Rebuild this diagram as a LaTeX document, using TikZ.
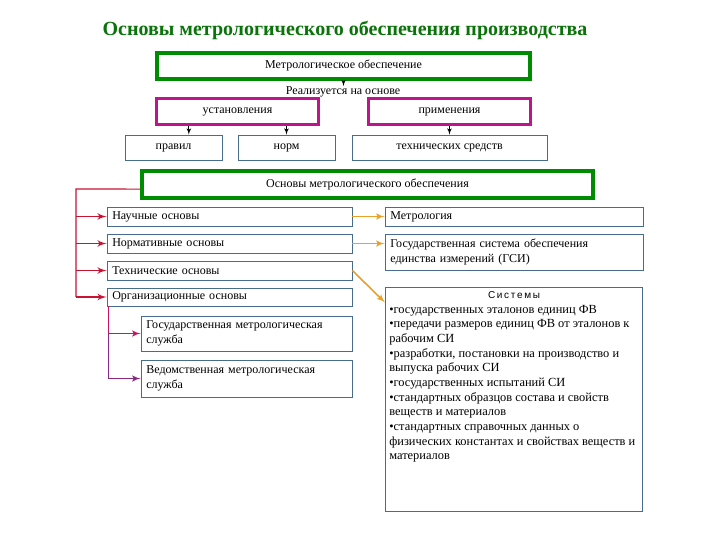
\documentclass[tikz,border=0pt]{standalone}
\usepackage{fontspec}
\setmainfont{Liberation Serif}
\newfontfamily\sysfont{Liberation Sans}
\usetikzlibrary{shapes,arrows,positioning}
\definecolor{titlegreen}{RGB}{10,115,10}
\definecolor{boxgreen}{RGB}{0,140,0}
\definecolor{boxmagenta}{RGB}{190,20,140}
\definecolor{boxblue}{RGB}{70,110,140}
\definecolor{linered}{RGB}{200,20,50}
\definecolor{linepink}{RGB}{200,20,100}
\definecolor{linepurple}{RGB}{140,40,130}
\definecolor{lineorange}{RGB}{235,160,40}
\tikzstyle{greenbox} = [rectangle,draw=boxgreen,line width=3pt,fill=white,
  font=\fontsize{9}{10}\selectfont]
\tikzstyle{pinkbox} = [rectangle,draw=boxmagenta,line width=2.25pt,fill=white,
  minimum width=121.5pt,minimum height=19.5pt,font=\fontsize{9}{10}\selectfont]
\tikzstyle{thinbox} = [rectangle,draw=boxblue,line width=0.6pt,fill=white,
  inner ysep=1pt,font=\fontsize{9}{11.5}\selectfont]
\tikzstyle{leftbox} = [thinbox,align=left,inner xsep=4pt]
\tikzstyle{blackline} = [draw,-latex',line width=0.6pt]
\tikzstyle{redline} = [draw,linered,line width=0.8pt]
\tikzstyle{redarrow} = [draw,linered,-latex',line width=1.4pt]
\tikzstyle{pinkarrow} = [draw,linepink,-latex',line width=1.2pt]
\tikzstyle{purplearrow} = [draw,linepurple,-latex',line width=1.2pt]
\tikzstyle{orangearrow} = [draw,lineorange,-latex',line width=1.2pt]

\begin{document}
\begin{tikzpicture}[x=0.75pt,y=-0.75pt]
\useasboundingbox (0,0) rectangle (720,540);

\node [font=\fontsize{15}{18}\selectfont\bfseries,text=titlegreen] (title) at (345,30)
  {Основы метрологического обеспечения производства};

\node [greenbox,minimum width=280pt,minimum height=19.5pt] (metr_support) at (343.5,65.5) {Метрологическое обеспечение};
\node [inner sep=0pt,font=\fontsize{9}{10}\selectfont] (basis_label) at (343,91.5) {Реализуется на основе};

\path [blackline] (metr_support.south) -- (metr_support.south |- basis_label.north);

\node [pinkbox] (establish) at (237.5,111.5) {установления};
\node [pinkbox] (apply) at (449.5,111.5) {применения};

\node [thinbox,minimum width=72.75pt,minimum height=18.75pt] (rules) at (173.5,147.5) {правил};
\node [thinbox,minimum width=72.75pt,minimum height=18.75pt] (norms) at (286.5,147.5) {норм};
\node [thinbox,minimum width=146.25pt,minimum height=18.75pt] (tech_means) at (449.5,147.5) {технических средств};

\path [blackline] ([xshift=11.5pt]rules.north |- establish.south) -- ([xshift=11.5pt]rules.north);
\path [blackline] (norms.north |- establish.south) -- (norms.north);
\path [blackline] (tech_means.north |- apply.south) -- (tech_means.north);

\node [greenbox,minimum width=338pt,minimum height=20pt] (basics) at (367.5,184.5) {Основы метрологического обеспечения};

% left column
\node [leftbox,text width=175.75pt,minimum height=14.25pt] (science) at (229.5,216.5) {Научные основы};
\node [leftbox,text width=175.75pt,minimum height=14.25pt] (normative) at (229.5,243.5) {Нормативные основы};
\node [leftbox,text width=175.75pt,minimum height=14.25pt] (technical) at (229.5,270.5) {Технические основы};
\node [leftbox,text width=175.75pt,minimum height=13.5pt] (organiz) at (229.5,297) {Организационные основы};
\node [leftbox,text width=150.25pt,minimum height=26.25pt] (state_service) at (246.5,333.5)
  {Государственная метрологическая\\служба};
\node [leftbox,text width=150.25pt,minimum height=27.75pt] (dept_service) at (246.5,378.5)
  {Ведомственная метрологическая\\служба};

% right column
\node [leftbox,text width=185.5pt,minimum height=14.25pt] (metrology) at (514,216.5) {Метрология};
\node [leftbox,text width=185.5pt,minimum height=27pt] (gsi) at (514,252)
  {Государственная система обеспечения\\единства измерений (ГСИ)};
\node [thinbox,inner xsep=3pt,inner ysep=3pt] (systems) at (514,399.5)
  {\parbox[c][162pt][t]{187pt}{\fontsize{9.3}{11}\selectfont
   \centering{\sysfont\fontsize{7.5}{11}\selectfont С\,и\,с\,т\,е\,м\,ы}\par
   \raggedright
   •государственных эталонов единиц ФВ\\
   •передачи размеров единиц ФВ от эталонов к\\
   рабочим СИ\\
   •разработки, постановки на производство и\\
   выпуска рабочих СИ\\
   •государственных испытаний СИ\\
   •стандартных образцов состава и свойств\\
   веществ и материалов\\
   •стандартных справочных данных о\\
   физических константах и свойствах веществ и\\
   материалов}};

\coordinate (red_trunk) at (76,189);
\path [redline] ([yshift=-3.4pt]basics.west) -- (red_trunk) -- (red_trunk |- organiz.west);
\foreach \n in {science,normative,technical,organiz}
  \path [redarrow] (red_trunk |- \n.west) -- (\n.west);

\coordinate (org_trunk) at ([xshift=1.5pt]organiz.south west);
\path [draw,linepink,line width=0.8pt] (org_trunk) -- (org_trunk |- state_service.west);
\path [draw,linepurple,line width=0.8pt] (org_trunk |- state_service.west) -- (org_trunk |- dept_service.west);
\path [pinkarrow] (org_trunk |- state_service.west) -- (state_service.west);
\path [purplearrow] (org_trunk |- dept_service.west) -- (dept_service.west);

\path [orangearrow] (science.east) -- (metrology.west);
\path [orangearrow] (normative.east) -- (normative.east -| gsi.west);
\path [orangearrow] (technical.east) -- ([yshift=-11.5pt]systems.north west);

\end{tikzpicture}
\end{document}
